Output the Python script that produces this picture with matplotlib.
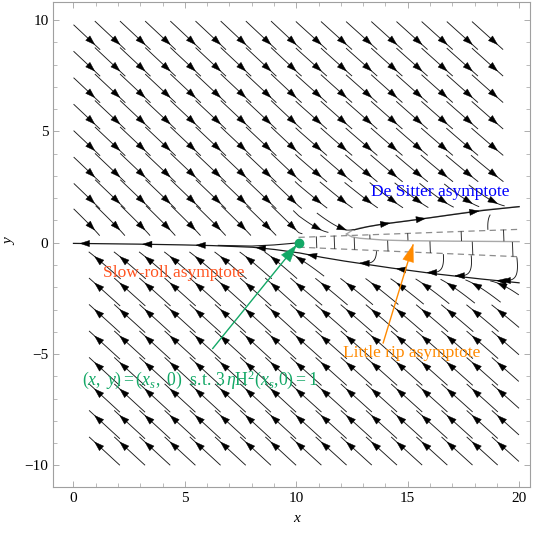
import numpy as np
import matplotlib
matplotlib.use("Agg")
import matplotlib.pyplot as plt
from matplotlib.patches import Polygon
from matplotlib.ticker import MultipleLocator

plt.rcParams["font.family"] = ["Liberation Serif", "DejaVu Serif"]
plt.rcParams["mathtext.fontset"] = "custom"
plt.rcParams["mathtext.rm"] = "Liberation Serif"
plt.rcParams["mathtext.it"] = "Liberation Serif:italic"

# ---------------- data ----------------
x_s = 10.1                                   # point where 3 eta H^2 = 1
sr_x = [0, 2, 4, 6, 8, 9, 10.1, 11, 12, 14, 16, 18, 20]          # slow-roll / lower separatrix
sr_y = [-0.03, -0.05, -0.08, -0.12, -0.2, -0.3, -0.45, -0.63, -0.8, -1.1, -1.37, -1.6, -1.8]
dot_line_x = [6.5, 8.0, 9.0, 9.7, 10.1]     # line leaving the special point to the left
dot_line_y = [-0.12, -0.15, -0.1, -0.04, 0.0]
ds_x = [10.1, 11.2, 12.25, 12.6, 13.2, 13.9, 15.0, 16.0, 17.0, 18.4, 20.0]   # De Sitter asymptote
ds_y = [0.28, 0.34, 0.45, 0.58, 0.72, 0.84, 0.98, 1.12, 1.26, 1.45, 1.62]
ud_x = [10.1, 20.0]                          # upper dashed boundary
ud_y = [0.24, 0.60]
ld_x = [10.1, 20.0]                          # lower dashed boundary
ld_y = [-0.20, -0.63]
gu_x = [12.25, 12.5, 12.85, 13.9, 15.84, 18.4, 20.0]   # grey boundary, upper branch
gu_y = [0.39, 0.55, 0.66, 0.84, 1.10, 1.47, 1.62]
gl_x = [12.25, 12.5, 12.85, 13.9, 15.0, 17.0, 20.0]    # grey boundary, lower branch (little rip)
gl_y = [0.39, 0.26, 0.20, 0.12, 0.09, 0.07, 0.05]
sr_arrow_x = [0.3, 3.1, 5.5, 8.2, 10.5, 14.5, 19.0]
ds_arrow_x = [14.2, 15.8, 18.2]
wedge_up_x = [10.9, 13.3, 15.0, 17.4, 19.3]
wedge_lo_x = [11.7, 12.6, 14.1, 16.0, 17.9, 19.7]
curl_lo_x = [13.6, 16.6, 17.85, 19.9]
curl_up_x = [18.6]
seed_dx = 1.13
seed_dy = 1.19
xticks_major = [0, 5, 10, 15, 20]
yticks_major = [-10, -5, 0, 5, 10]

a_speed = 0.22
a_slow = 0.08
k_slope = 0.93


def interp_d(x, xs, ys):
    h = 1e-3
    return (np.interp(x + h, xs, ys) - np.interp(x - h, xs, ys)) / (2 * h)


def field(x, y):
    if x > x_s:
        yu = np.interp(x, ud_x, ud_y)
        yl = np.interp(x, ld_x, ld_y)
        if y >= yu:
            c = np.interp(x, ds_x, ds_y); cp = interp_d(x, ds_x, ds_y); s = 1.0
        elif y <= yl:
            c = np.interp(x, sr_x, sr_y); cp = interp_d(x, sr_x, sr_y); s = -1.0
        else:
            return None
        e = y - c
        if (s > 0 and e < 0) or (s < 0 and e > 0):   # thin bands next to the wedge
            return 0.3 * e + s * a_speed, -k_slope * e + s * a_speed * cp
        return e + s * a_speed, -k_slope * e + s * a_speed * cp
    c = np.interp(x, sr_x, sr_y); cp = interp_d(x, sr_x, sr_y)
    e = y - c
    return e - a_slow, -k_slope * e - a_slow * cp


def in_band(x, y):
    if x <= x_s:
        return False
    if np.interp(x, ld_x, ld_y) >= y >= np.interp(x, sr_x, sr_y) - 0.1:
        return True
    if np.interp(x, ud_x, ud_y) <= y <= np.interp(x, ds_x, ds_y) + 0.1:
        return True
    return False


def wedge_field(x, y):
    return 0.04, -1.0


def trace(x0, y0, sgn, length, fn, stop=None, h=0.02):
    pts = [(x0, y0)]
    x, y = x0, y0
    for _ in range(int(length / h)):
        f = fn(x, y)
        if f is None:
            break
        m = np.hypot(*f)
        if m < 1e-9:
            break
        xm = x + 0.5 * h * sgn * f[0] / m
        ym = y + 0.5 * h * sgn * f[1] / m
        f2 = fn(xm, ym)
        if f2 is None:
            break
        m2 = np.hypot(*f2)
        if m2 < 1e-9:
            break
        x = x + h * sgn * f2[0] / m2
        y = y + h * sgn * f2[1] / m2
        if x < 0 or x > 20 or y < -10 or y > 10:
            break
        if stop is not None and stop(x, y):
            break
        pts.append((x, y))
    return np.array(pts)


def arrowhead(ax, tip, back, color="k", L=0.42, W=0.14):
    d = np.array(tip) - np.array(back)
    n = np.hypot(*d)
    if n < 1e-9:
        return
    d = d / n
    p = np.array([-d[1], d[0]])
    base = np.array(tip) - L * d
    ax.add_patch(Polygon([tip, base + W * p, base - W * p], closed=True,
                         fc=color, ec=color, lw=0.3, zorder=4))


def point_back(path, dist):
    acc = 0.0
    for i in range(1, len(path)):
        acc += np.hypot(*(path[i] - path[i - 1]))
        if acc >= dist:
            return path[i]
    return path[-1]


fig = plt.figure(figsize=(5.42, 5.34), dpi=100)
ax = fig.add_axes([53.3 / 542, 1 - 487 / 534, (530 - 53.3) / 542, (487 - 2) / 534])
ax.set_xlim(-0.906, 20.49)
ax.set_ylim(-10.97, 10.81)

line_kw = dict(color="#1a1a1a", lw=0.65, zorder=3, solid_capstyle="butt")

# ---- main stream lines from a lattice of seeds ----
for yy in np.arange(8.9, -10.0, -seed_dy):
    for xx in np.arange(0.95, 20.0, seed_dx):
        if field(xx, yy) is None or in_band(xx, yy):
            continue
        back = trace(xx, yy, -1, 1.55, field)
        fwd = trace(xx, yy, +1, 0.35, field)
        path = np.vstack([back[::-1], fwd[1:]]) if len(fwd) > 1 else back[::-1]
        if len(path) < 3:
            continue
        ax.plot(path[:, 0], path[:, 1], **line_kw)
        if len(back) > 3:
            arrowhead(ax, (xx, yy), point_back(back, 0.4))

# ---- asymptote curves ----
ax.plot(gu_x, gu_y, color="#a8a8a8", lw=1.0, zorder=2)
ax.plot(gl_x, gl_y, color="#a8a8a8", lw=1.0, zorder=2)
sr_xx = np.linspace(0, 20, 200)
ax.plot(sr_xx, np.interp(sr_xx, sr_x, sr_y), color="#1a1a1a", lw=0.9, zorder=3)
dl_xx = np.linspace(dot_line_x[0], dot_line_x[-1], 60)
ax.plot(dl_xx, np.interp(dl_xx, dot_line_x, dot_line_y), color="#1a1a1a", lw=0.8, zorder=3)
ds_xx = np.linspace(12.6, 20, 120)
ax.plot(ds_xx, np.interp(ds_xx, ds_x, ds_y), color="#1a1a1a", lw=0.9, zorder=3)
ax.plot(ud_x, ud_y, color="#8c8c8c", lw=0.9, ls=(0, (5, 3.5)), zorder=2)
ax.plot(ld_x, ld_y, color="#8c8c8c", lw=0.9, ls=(0, (5, 3.5)), zorder=2)
for xx in sr_arrow_x:
    ax_b = xx + 0.4
    arrowhead(ax, (xx, np.interp(xx, sr_x, sr_y)), (ax_b, np.interp(ax_b, sr_x, sr_y)))
for xx in ds_arrow_x:
    ax_b = xx - 0.4
    arrowhead(ax, (xx, np.interp(xx, ds_x, ds_y)), (ax_b, np.interp(ax_b, ds_x, ds_y)))

# ---- short marks inside the wedge and next to it ----
for xx in wedge_up_x:
    y0 = np.interp(xx, ud_x, ud_y) - 0.01
    if xx > gl_x[0]:
        stop = lambda x, y: y < np.interp(x, gl_x, gl_y) + 0.02
    else:
        stop = lambda x, y: y < np.interp(x, ld_x, ld_y)
    p = trace(xx, y0, 1, 2.0, wedge_field, stop=stop)
    ax.plot(p[:, 0], p[:, 1], color="#333333", lw=0.7, zorder=3)
for xx in wedge_lo_x:
    y0 = np.interp(xx, gl_x, gl_y) - 0.04 if xx > gl_x[0] else np.interp(xx, ud_x, ud_y)
    stop = lambda x, y: y < np.interp(x, ld_x, ld_y)
    p = trace(xx, y0, 1, 2.0, wedge_field, stop=stop)
    ax.plot(p[:, 0], p[:, 1], color="#333333", lw=0.7, zorder=3)
for xx in curl_lo_x:
    y0 = np.interp(xx, ld_x, ld_y) - 0.03
    gap = y0 - np.interp(xx, sr_x, sr_y)
    p = trace(xx, y0, 1, gap + 0.45, field)
    ax.plot(p[:, 0], p[:, 1], **line_kw)
    arrowhead(ax, p[-1], point_back(p[::-1], 0.3))
for xx in curl_up_x:
    y0 = np.interp(xx, ud_x, ud_y) + 0.03
    gap = np.interp(xx, ds_x, ds_y) - y0
    p = trace(xx, y0, 1, gap * 0.8, field)
    ax.plot(p[:, 0], p[:, 1], **line_kw)

# ---- annotations ----
green = "#13a866"
orange = "#ff8a00"
ax.plot([x_s], [0.0], "o", color=green, ms=6, zorder=6)
g_tail, g_tip = (6.25, -4.75), (10.0, -0.12)
ax.plot([g_tail[0], g_tip[0]], [g_tail[1], g_tip[1]], color=green, lw=1.0, zorder=5)
arrowhead(ax, g_tip, g_tail, color=green, L=0.75, W=0.25)
o_tail, o_tip = (13.9, -4.5), (15.24, -0.1)
ax.plot([o_tail[0], o_tip[0]], [o_tail[1], o_tip[1]], color=orange, lw=1.0, zorder=5)
arrowhead(ax, o_tip, o_tail, color=orange, L=0.75, W=0.25)

ax.text(16.48, 2.29, "De Sitter asymptote", color="#0000ff", fontsize=12.5,
        ha="center", va="center", zorder=7)
ax.text(4.51, -1.37, "Slow-roll asymptote", color="#ff5522", fontsize=12.5,
        ha="center", va="center", zorder=7)
ax.text(15.2, -4.97, "Little rip asymptote", color=orange, fontsize=12.5,
        ha="center", va="center", zorder=7)
ax.text(5.67, -6.14, r"$(x,\ y) = (x_s,\ 0)$  s.t. $3\,\eta\mathrm{H}^2(x_s{,}0){=}1$",
        color=green, fontsize=12.8, ha="center", va="center", zorder=7)

# ---- frame & ticks ----
for sp in ax.spines.values():
    sp.set_color("#a0a0a0")
    sp.set_linewidth(0.8)
ax.xaxis.set_major_locator(MultipleLocator(5))
ax.yaxis.set_major_locator(MultipleLocator(5))
ax.xaxis.set_minor_locator(MultipleLocator(1))
ax.yaxis.set_minor_locator(MultipleLocator(1))
ax.tick_params(which="both", direction="in", top=True, right=True, colors="#a0a0a0",
               labelcolor="black", labelsize=11)
ax.tick_params(which="major", length=4.5, width=0.6)
ax.tick_params(which="minor", length=2.6, width=0.5)
ax.set_xticks(xticks_major)
ax.set_yticks(yticks_major)
ax.set_xticklabels([str(v) for v in xticks_major])
ax.set_yticklabels([str(v).replace("-", "\u2212") for v in yticks_major])
ax.set_xlabel("x", fontstyle="italic", fontsize=11)
ax.set_ylabel("y", fontstyle="italic", fontsize=11)
ax.xaxis.set_label_coords((297 - 53.3) / 476.7, (487 - 512) / 485)
ax.yaxis.set_label_coords((16 - 53.3) / 476.7, (487 - 242) / 485)

fig.savefig("out.png", dpi=100)
